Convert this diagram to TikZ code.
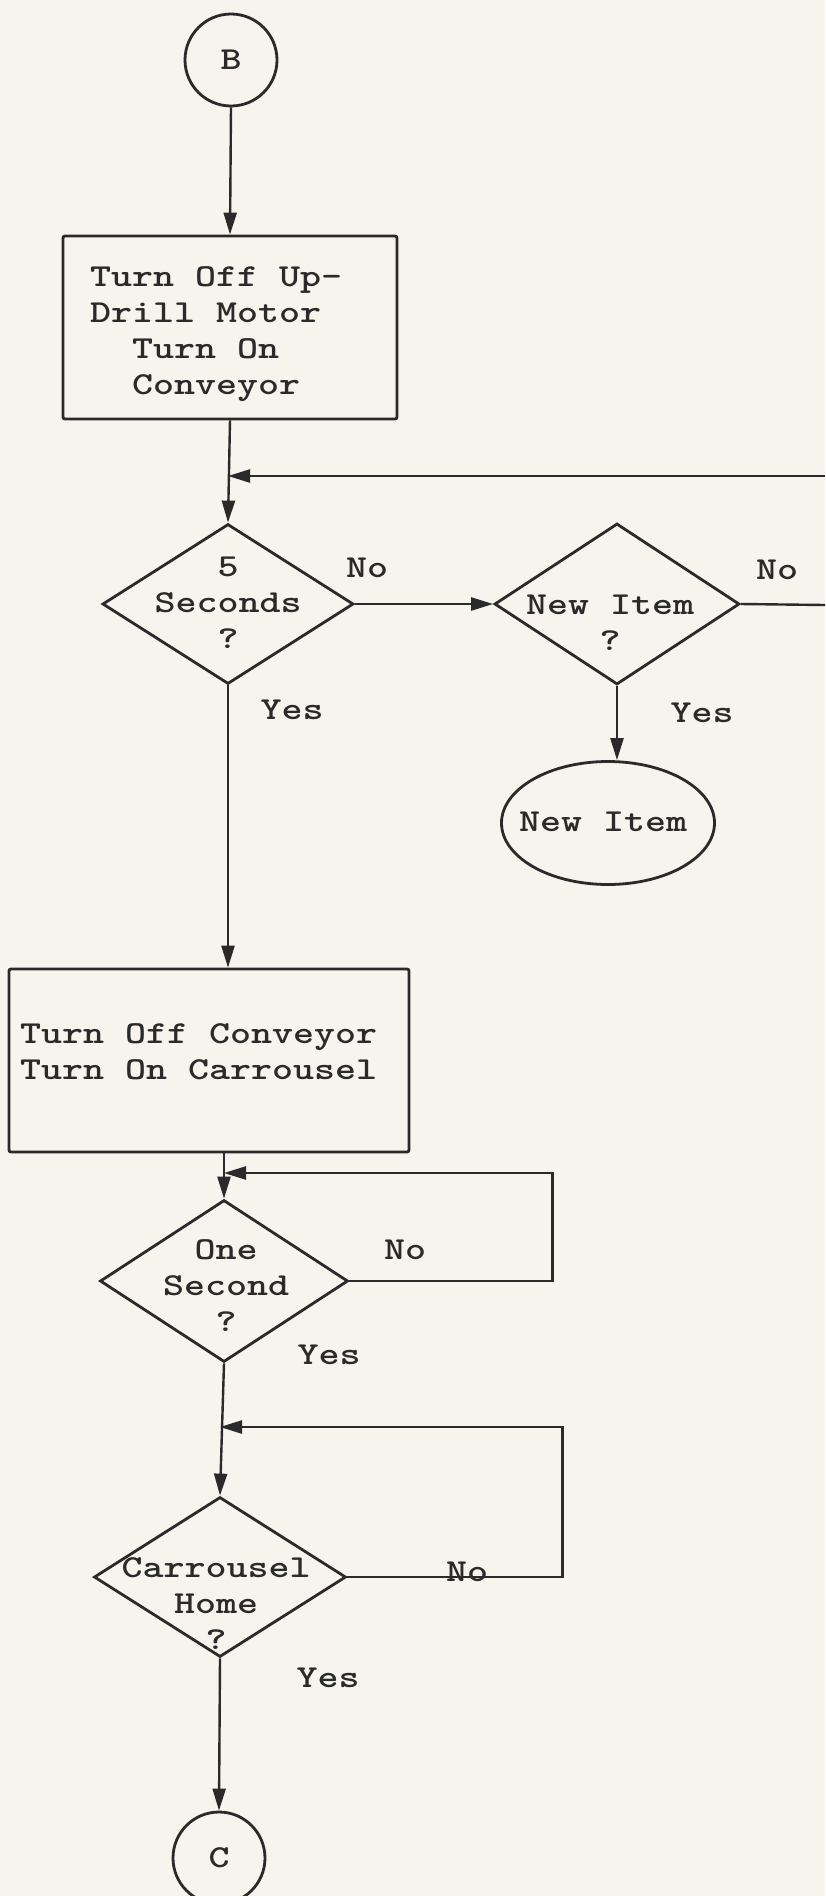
\documentclass[tikz,border=0pt]{standalone}
\usepackage{fontspec}
\usetikzlibrary{shapes.geometric,arrows.meta}
\newfontfamily\typewriter[FakeStretch=1.25]{lmmonolt10-bold.otf}
\definecolor{paper}{RGB}{246,244,237}
\definecolor{ink}{RGB}{42,42,42}
\begin{document}
\begin{tikzpicture}[x=1pt,y=-1pt,
  flow/.style={draw=ink, line width=2.8pt},
  conn/.style={draw=ink, line width=2.4pt},
  arr/.style={conn, -{Triangle[length=22pt,width=13pt]}},
  lbl/.style={text=ink, inner sep=0pt, font=\typewriter\fontsize{32}{36}\selectfont},
  term/.style={circle, flow, lbl, minimum size=92pt, inner sep=0pt},
  proc/.style={rectangle, flow, rounded corners=2pt, inner sep=0pt},
  dec/.style={diamond, flow, inner sep=0pt},
  endpt/.style={ellipse, flow, inner sep=0pt}]
\useasboundingbox (0,0) rectangle (825,1896);
\fill[paper] (0,0) rectangle (825,1896);

% shapes
\node[term] (B) at (231,60) {B};
\node[proc, minimum width=334pt, minimum height=183pt] (box1) at (230,327.5) {};
\node[lbl, anchor=west, align=left] (box1txt) at (90,334)
  {Turn Off Up-\\Drill Motor\\\hphantom{Tu}Turn On\\\hphantom{Tu}Conveyor};
\node[dec, minimum width=251pt, minimum height=160pt] (d1) at (228,604) {};
\node[lbl, align=center] (d1txt) at (228,603) {5\\Seconds\\?};
\node[dec, minimum width=245pt, minimum height=161pt] (d2) at (617,604) {};
\node[lbl, align=center] (d2txt) at (610,623) {New Item\\?};
\node[endpt, minimum width=213pt, minimum height=123pt] (ni) at (608,823) {};
\node[lbl] (nitxt) at (603,822) {New Item};
\node[proc, minimum width=400pt, minimum height=183pt] (box2) at (209,1060.5) {};
\node[lbl, anchor=west, align=left] (box2txt) at (20,1052)
  {Turn Off Conveyor\\Turn On Carrousel};
\node[dec, minimum width=248pt, minimum height=162pt] (d3) at (224,1281) {};
\node[lbl, align=center] (d3txt) at (226,1286) {One\\Second\\?};
\node[dec, minimum width=252pt, minimum height=160pt] (d4) at (220,1577) {};
\node[lbl, align=center] (d4txt) at (216,1604) {Carrousel\\Home\\?};
\node[term] (C) at (219,1858) {C};

% branch labels
\node[lbl] (no1) at (367,568) {No};
\node[lbl] (yes1) at (292,710) {Yes};
\node[lbl] (no2) at (777,570) {No};
\node[lbl] (yes2) at (702,713) {Yes};
\node[lbl] (no3) at (405,1250) {No};
\node[lbl] (yes3) at (329,1355) {Yes};
\node[lbl] (no4) at (467,1572) {No};
\node[lbl] (yes4) at (328,1678) {Yes};

% junctions and page-edge ends
\coordinate (j1) at (228,476);
\coordinate (e1) at (825,476);
\coordinate (e2) at (825,605);
\coordinate (j2) at (224,1173);
\coordinate (j3) at (220,1427);

% connectors
\draw[arr] (B.south) -- (box1.north);
\draw[arr] (box1.south) -- (d1.north);
\draw[arr] (e1) -- (j1);
\draw[arr] (d1.east) -- (d2.west);
\draw[conn] (d2.east) -- (e2);
\draw[arr] (d2.south) -- (d2.south |- ni.north);
\draw[arr] (d1.south) -- (d1.south |- box2.north);
\draw[arr] (d3.north |- box2.south) -- (d3.north);
\draw[arr] (d3.east) -- ++(203,0) |- (j2);
\draw[arr] (d3.south) -- (d4.north);
\draw[arr] (d4.east) -- ++(215,0) |- (j3);
\draw[arr] (d4.south) -- (C.north);
\end{tikzpicture}
\end{document}
